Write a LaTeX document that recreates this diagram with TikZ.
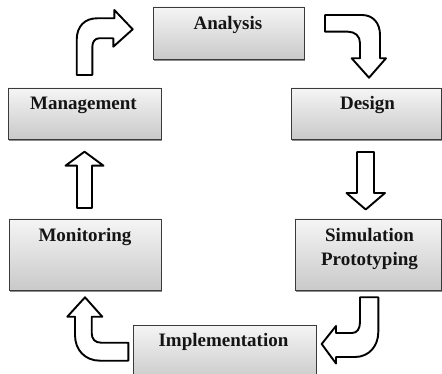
\documentclass[tikz,border=0pt]{standalone}
\usepackage{fontspec}
\setmainfont{Liberation Serif}
\usetikzlibrary{shadows}
\definecolor{boxline}{HTML}{3A3A3A}
\definecolor{txt}{HTML}{141414}
\begin{document}
\begin{tikzpicture}[x=1pt,y=-1pt,
  procbox/.style={draw=boxline, line width=0.9pt, inner sep=0pt,
    top color=gray!8, bottom color=gray!42,
    drop shadow={shadow xshift=0.8pt, shadow yshift=-1.6pt, opacity=0.45, fill=black}},
  lbl/.style={anchor=base, text=txt, font=\fontsize{19}{22}\selectfont\bfseries, inner sep=0pt, align=center},
  blockarrow/.style={draw=black, line width=1.9pt, fill=white, line join=round}]
\useasboundingbox (0,0) rectangle (442,374);
\clip (0,0) rectangle (442,374);
\fill[white] (0,0) rectangle (442,374);
% boxes
\node[procbox, minimum width=151pt, minimum height=52pt] (ana) at (228.5,33) {};
\node[procbox, minimum width=150pt, minimum height=51pt] (des) at (366,113.5) {};
\node[procbox, minimum width=153pt, minimum height=51pt] (man) at (84.5,113.5) {};
\node[procbox, minimum width=152pt, minimum height=71pt] (mon) at (85,254.5) {};
\node[procbox, minimum width=146pt, minimum height=71pt] (sim) at (368,254.5) {};
\node[procbox, minimum width=183pt, minimum height=56pt] (imp) at (224.5,353) {};
% labels
\node[lbl] (tana) at (228,29.3) {Analysis};
\node[lbl] (tdes) at (367.5,110) {Design};
\node[lbl] (tman) at (83.5,110) {Management};
\node[lbl] (tmon) at (85,242) {Monitoring};
\node[lbl] (tsim) at (369.5,242) {Simulation};
\node[lbl] (tpro) at (369.5,265.3) {Prototyping};
\node[lbl] (timp) at (223.5,346) {Implementation};
% block arrows
\draw[blockarrow] (92.3,75) -- (76.7,75) -- (76.7,40)
  .. controls (76.7,26) and (85,18.3) .. (97,18.3) -- (114.3,18.3) -- (114.3,10)
  -- (132.7,29.3) -- (113.3,46.7) -- (113.3,38.3) -- (99,38.3)
  .. controls (95,38.3) and (92.3,42) .. (92.3,47) -- cycle;
\draw[blockarrow] (325,15) -- (362,15) .. controls (373,15) and (380,23) .. (380,35)
  -- (380,58.3) -- (386,58.3) -- (369,77.7) -- (351.7,58.3) -- (360,58.3) -- (360,43)
  .. controls (360,36) and (355,31.7) .. (348,31.7) -- (325,31.7) -- cycle;
\draw[blockarrow] (357,152) -- (374,152) -- (374,193) -- (385,193) -- (365.7,209.5)
  -- (346.5,193) -- (357,193) -- cycle;
\draw[blockarrow] (77,208) -- (92,208) -- (92,165.7) -- (103.5,165.7) -- (84.5,151.7)
  -- (65.5,165.7) -- (77,165.7) -- cycle;
\draw[blockarrow] (85,297.3) -- (102.3,316.7) -- (91.7,316.7) -- (91.7,333)
  .. controls (91.7,339) and (95,342.7) .. (101,342.7) -- (128.3,342.7) -- (128.3,360.7)
  -- (100,360.7) .. controls (85,360.7) and (75,350) .. (75,335) -- (75,316.7)
  -- (67.3,316.7) -- cycle;
\draw[blockarrow] (360,297.3) -- (378.3,297.3) -- (378.3,332)
  .. controls (378.3,346) and (369,357) .. (355,357) -- (336,357) -- (336,363.5)
  -- (321.7,344) -- (336,326) -- (336,333) -- (352,333)
  .. controls (357,333) and (360,329) .. (360,322) -- cycle;
\end{tikzpicture}
\end{document}
